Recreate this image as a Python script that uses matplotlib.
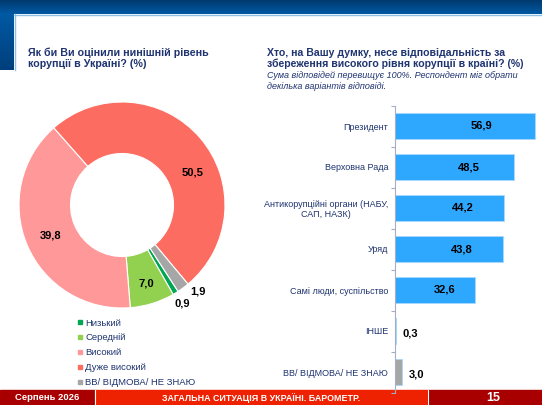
import numpy as np
import matplotlib
matplotlib.use("Agg")
import matplotlib.pyplot as plt
from matplotlib.patches import Rectangle
from matplotlib.lines import Line2D

plt.rcParams['font.family'] = ['Liberation Sans', 'DejaVu Sans']

# дані: оцінка рівня корупції (кільце)
levels = ["Низький", "Середній", "Високий", "Дуже високий", "ВВ/ ВІДМОВА/ НЕ ЗНАЮ"]
level_vals = [0.9, 7.0, 39.8, 50.5, 1.9]
level_colors = ["#00A651", "#92D050", "#FF9999", "#FC6C60", "#A6A6A6"]

# дані: хто несе відповідальність (стовпці)
who = ["Президент", "Верховна Рада", "Антикорупційні органи (НАБУ,\nСАП, НАЗК)",
       "Уряд", "Самі люди, суспільство", "ІНШЕ", "ВВ/ ВІДМОВА/ НЕ ЗНАЮ"]
who_vals = [56.9, 48.5, 44.2, 43.8, 32.6, 0.3, 3.0]
who_colors = ["#2EA7FF"] * 6 + ["#A6A6A6"]

navy = "#1F3470"
W, H = 542, 405
fig = plt.figure(figsize=(W / 100, H / 100), dpi=100)

# фон: шапка, підвал
bg = fig.add_axes([0, 0, 1, 1])
bg.set_xlim(0, W)
bg.set_ylim(H, 0)
bg.axis("off")
grad = np.linspace(0, 1, 50).reshape(-1, 1)
bg.imshow(grad, extent=(0, W, 14, 0), cmap=matplotlib.colors.LinearSegmentedColormap.from_list("h", ["#003A70", "#0059A3"]), aspect="auto")
bg.imshow(grad, extent=(0, 14, 70, 14), cmap=matplotlib.colors.LinearSegmentedColormap.from_list("v", ["#0059A3", "#003F7C"]), aspect="auto")
bg.plot([14, W], [14.5, 14.5], color="#8EC0E8", lw=1)
bg.plot([14.5, 14.5], [14, 70], color="#8EC0E8", lw=1)
bg.add_patch(Rectangle((0, 390), 95, 15, color="#A80000"))
bg.add_patch(Rectangle((95, 390), 333, 15, color="#EE2200"))
bg.add_patch(Rectangle((428, 390), W - 428, 15, color="#A80000"))
bg.plot([95, 95], [390, 405], color="white", lw=0.8)
bg.plot([428, 428], [390, 405], color="white", lw=0.8)
bg.text(47, 398, "Серпень 2026", color="white", fontsize=6.8, fontweight="bold", ha="center", va="center")
bg.text(261, 398, "ЗАГАЛЬНА СИТУАЦІЯ В УКРАЇНІ. БАРОМЕТР.", color="white", fontsize=6.4, fontweight="bold", ha="center", va="center")
bg.text(493, 398, "15", color="white", fontsize=9, fontweight="bold", ha="center", va="center")
bg.set_xlim(0, W)
bg.set_ylim(H, 0)

# заголовки
bg.text(28, 47.5, "Як би Ви оцінили нинішній рівень\nкорупції в Україні? (%)", color=navy, fontsize=7.7,
        fontweight="bold", ha="left", va="top", linespacing=1.15)
bg.text(267, 47.5, "Хто, на Вашу думку, несе відповідальність за\nзбереження високого рівня корупції в країні? (%)",
        color=navy, fontsize=7.6, fontweight="bold", ha="left", va="top", linespacing=1.07)
bg.text(267, 70.5, "Сума відповідей перевищує 100%. Респондент міг обрати\nдекілька варіантів відповіді.",
        color=navy, fontsize=6.45, style="italic", ha="left", va="top", linespacing=1.3)

# кільцева діаграма
cx, cy, r = 122, 205, 103
ax1 = fig.add_axes([(cx - r) / W, (H - cy - r) / H, 2 * r / W, 2 * r / H])
ax1.set_zorder(2)
ax1.patch.set_alpha(0)
wedges, _ = ax1.pie(level_vals, colors=level_colors, startangle=-57, counterclock=False,
                    wedgeprops=dict(width=0.5, edgecolor="white", linewidth=0.8))
ax1.set_xlim(-1, 1)
ax1.set_ylim(-1, 1)
ax1.set_aspect("equal")
nudge = [0, 0, 0, -16, 5]
for w, v, dn in zip(wedges, level_vals, nudge):
    mid = np.deg2rad((w.theta1 + w.theta2) / 2 + dn)
    rr = (0.8 if v < 10 else 0.75) if v > 5 else 1.12
    ax1.text(rr * np.cos(mid), rr * np.sin(mid), f"{v:.1f}".replace(".", ","), ha="center", va="center",
             fontsize=8, fontweight="bold", color="black")

handles = [Line2D([], [], marker="s", linestyle="", color=c, markersize=3.3) for c in level_colors]
fig.legend(handles, levels, loc="upper left", bbox_to_anchor=(77 / W, 1 - 318.5 / H), frameon=False,
           fontsize=6.8, labelcolor=navy, handlelength=0.6, handletextpad=0.25, labelspacing=0.62,
           borderpad=0, borderaxespad=0)

# горизонтальні стовпці
top, bot = 105.5, 392.5
ax2 = fig.add_axes([395 / W, (H - bot) / H, 148 / W, (bot - top) / H])
ax2.set_zorder(2)
ax2.patch.set_alpha(0)
y = np.arange(len(who))
ax2.barh(y, who_vals, height=0.63, color=who_colors, edgecolor="#A8D8FF", linewidth=0.6)
ax2.set_xlim(0, 148 / 2.46)
ax2.set_ylim(len(who) - 0.5, -0.5)
for i, v in enumerate(who_vals):
    lab = f"{v:.1f}".replace(".", ",")
    if v > 10:
        ax2.text(v * 0.62, i, lab, ha="center", va="center", fontsize=8, fontweight="bold")
    else:
        ax2.text(v + 2.6, i + 0.05, lab, ha="left", va="center", fontsize=8, fontweight="bold")
ax2.set_yticks(y)
ax2.set_yticklabels(who, fontsize=6.5, color=navy, multialignment="center")
ax2.set_yticks(np.arange(len(who) + 1) - 0.5, minor=True)
ax2.tick_params(axis="y", which="major", length=0, pad=5)
ax2.tick_params(axis="y", which="minor", length=3, color="#A6AEC6", width=0.8)
ax2.set_xticks([])
for s in ["top", "right", "bottom"]:
    ax2.spines[s].set_visible(False)
ax2.spines["left"].set_color("#A6AEC6")
ax2.spines["left"].set_linewidth(0.8)

fig.savefig("out.png", dpi=100)
